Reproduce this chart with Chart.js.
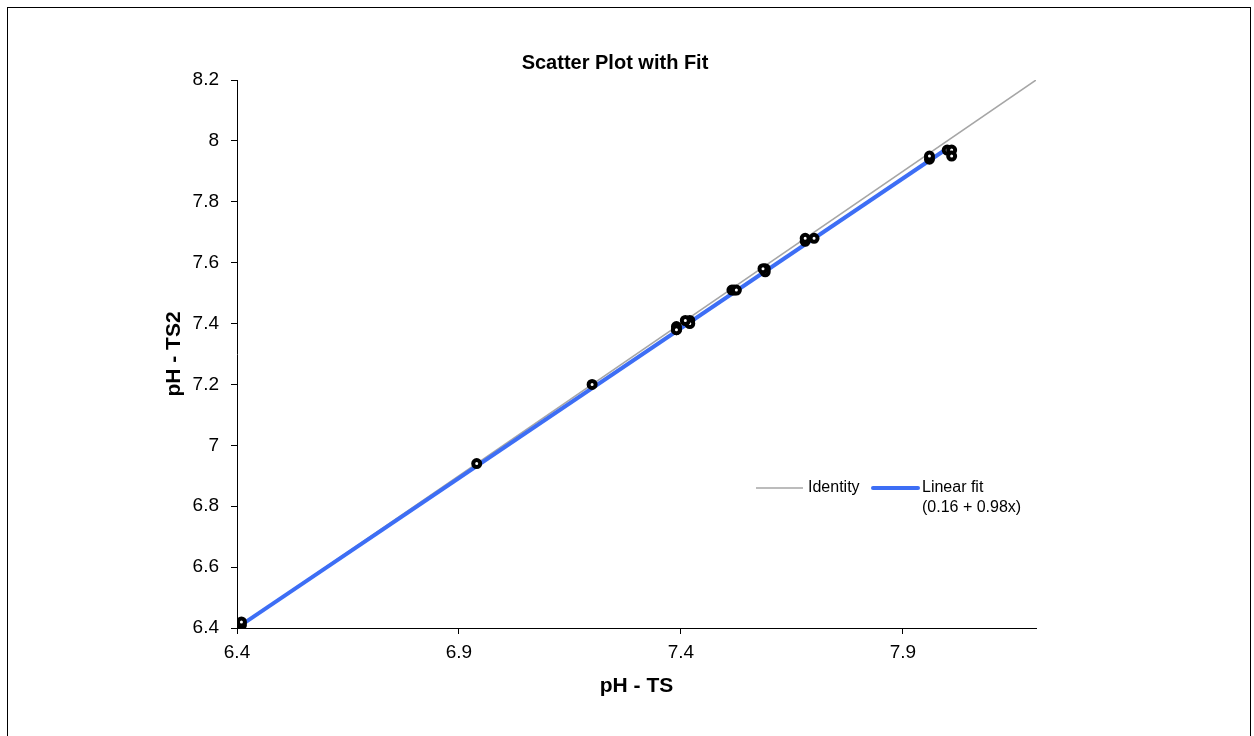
<!DOCTYPE html>
<html>
<head>
<meta charset="utf-8">
<script src="https://cdn.jsdelivr.net/npm/chart.js@4"></script>
<style>
  html, body { margin: 0; padding: 0; background: #fff; }
  #wrap { position: relative; width: 1254px; height: 736px; }
  #frame { position: absolute; left: 7px; top: 7px; width: 1244px; height: 740px; border: 1px solid #000; box-sizing: border-box; }
  canvas { position: absolute; left: 0; top: 0; }
</style>
</head>
<body>
<div id="wrap">
  <div id="frame"></div>
  <canvas id="myChart" width="1254" height="736"></canvas>
</div>
<script>
// measured pH pairs (TS, TS2)
const pHTS = [6.41, 6.41, 6.94, 7.20, 7.39, 7.39, 7.39, 7.42, 7.42, 7.41, 7.515, 7.52, 7.525, 7.59, 7.59, 7.585, 7.68, 7.68, 7.70, 7.96, 7.96, 8.00, 8.01, 8.01];
const pHTS2 = [6.41, 6.42, 6.94, 7.20, 7.38, 7.39, 7.38, 7.41, 7.40, 7.41, 7.51, 7.51, 7.51, 7.58, 7.57, 7.58, 7.67, 7.68, 7.68, 7.94, 7.95, 7.97, 7.97, 7.95];

const identityX = [6.4, 8.2];
const identityY = [6.4, 8.2];
const fitX = [6.41, 8.0];
const fitY = [6.41, 7.975];

const xTicks = [6.4, 6.9, 7.4, 7.9];
const yTicks = [6.4, 6.6, 6.8, 7.0, 7.2, 7.4, 7.6, 7.8, 8.0, 8.2];

const FONT = 'Liberation Sans, Arial, sans-serif';

const toPoints = (xs, ys) => xs.map((x, i) => ({ x, y: ys[i] }));

const overlay = {
  id: 'overlay',
  afterDraw(chart) {
    const { ctx } = chart;
    ctx.save();
    ctx.fillStyle = '#000';
    ctx.font = 'bold 20px ' + FONT;
    ctx.textAlign = 'center';
    ctx.textBaseline = 'middle';
    ctx.fillText('Scatter Plot with Fit', 615, 63);

    // legend inside plot
    ctx.font = '16px ' + FONT;
    ctx.textAlign = 'left';
    ctx.lineCap = 'butt';
    ctx.strokeStyle = '#a6a6a6';
    ctx.lineWidth = 1.5;
    ctx.beginPath(); ctx.moveTo(756, 488); ctx.lineTo(803, 488); ctx.stroke();
    ctx.fillText('Identity', 808, 488);
    ctx.strokeStyle = '#3d6ef5';
    ctx.lineWidth = 4;
    ctx.lineCap = 'round';
    ctx.beginPath(); ctx.moveTo(873, 488); ctx.lineTo(918, 488); ctx.stroke();
    ctx.fillText('Linear fit', 922, 488);
    ctx.fillText('(0.16 + 0.98x)', 922, 508);
    ctx.restore();
  }
};

const axisCommon = {
  type: 'linear',
  border: { display: true, color: '#000', width: 1 },
  grid: { drawOnChartArea: false, drawTicks: true, tickLength: 6, color: '#000', tickColor: '#000' },
};

new Chart(document.getElementById('myChart').getContext('2d'), {
  type: 'scatter',
  data: {
    datasets: [
      {
        label: 'Identity',
        type: 'line',
        data: toPoints(identityX, identityY),
        borderColor: '#a6a6a6',
        borderWidth: 1.5,
        pointRadius: 0,
        order: 3,
      },
      {
        label: 'Linear fit',
        type: 'line',
        data: toPoints(fitX, fitY),
        borderColor: '#3d6ef5',
        borderWidth: 4,
        pointRadius: 0,
        order: 2,
      },
      {
        label: 'Data',
        data: toPoints(pHTS, pHTS2),
        pointRadius: 3.5,
        pointBorderWidth: 4,
        pointBackgroundColor: '#fff',
        pointBorderColor: '#000',
        order: 1,
      },
    ],
  },
  options: {
    responsive: false,
    animation: false,
    layout: { padding: { left: 150, top: 80, right: 218, bottom: 37 } },
    plugins: { legend: { display: false }, tooltip: { enabled: false } },
    scales: {
      x: {
        ...axisCommon,
        min: 6.4,
        max: 8.2,
        afterBuildTicks: (s) => { s.ticks = xTicks.map((v) => ({ value: v })); },
        afterFit: (s) => { s.height = 71; },
        ticks: { color: '#000', font: { family: FONT, size: 19 }, padding: 7, maxRotation: 0, callback: (v) => String(Number(v.toFixed(1))) },
        title: { display: true, text: 'pH - TS', color: '#000', font: { family: FONT, size: 21, weight: 'bold' }, padding: { top: 4, bottom: 0 } },
      },
      y: {
        ...axisCommon,
        min: 6.4,
        max: 8.2,
        afterBuildTicks: (s) => { s.ticks = yTicks.map((v) => ({ value: v })); },
        afterFit: (s) => { s.width = 87; },
        ticks: { color: '#000', font: { family: FONT, size: 19 }, padding: 12, callback: (v) => String(Number(v.toFixed(1))) },
        title: { display: true, text: 'pH - TS2', color: '#000', font: { family: FONT, size: 21, weight: 'bold' }, padding: { top: 12, bottom: 0 } },
      },
    },
  },
  plugins: [overlay],
});
</script>
</body>
</html>
